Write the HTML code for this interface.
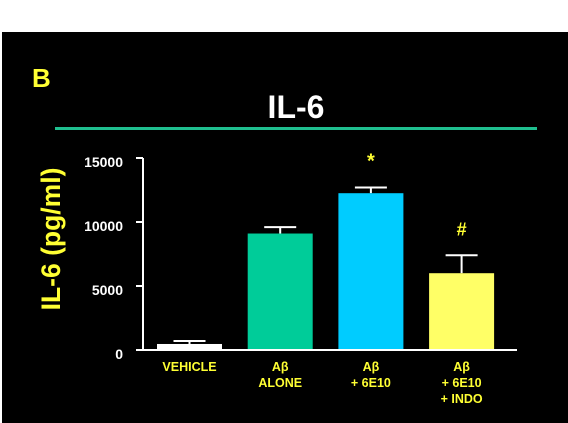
<!DOCTYPE html>
<html><head><meta charset="utf-8"><style>
html,body{margin:0;padding:0;background:#fff;}
svg{display:block;}
text{font-family:"Liberation Sans",Arial,sans-serif;font-weight:bold;}
</style></head><body>
<svg width="568" height="423">
<rect x="2" y="32" width="566" height="391" fill="#000"/>
<text x="32" y="87" font-size="26" fill="#ffff33">B</text>
<text x="296" y="118" font-size="32" fill="#fff" text-anchor="middle">IL-6</text>
<rect x="55" y="127" width="482" height="3" fill="#1fbf8f"/>
<text transform="translate(60,239) rotate(-90)" font-size="26.5" fill="#ffff33" text-anchor="middle">IL-6 (pg/ml)</text>
<g id="axes"></g>
<g id="bars"></g>
</svg>
<script>
const categories=[["VEHICLE"],["Aβ","ALONE"],["Aβ","+ 6E10"],["Aβ","+ 6E10","+ INDO"]];
const values=[470,9100,12250,6000];
const errors=[230,500,450,1400];
const colors=["#ffffff","#00cc99","#00ccff","#ffff66"];
const yTicks=[0,5000,10000,15000];
const markers=["","","*","#"];
const NS="http://www.w3.org/2000/svg";
const y0=350,yTop=158,yMax=15000,axX=143,axEnd=517;
const y=v=>y0-(v/yMax)*(y0-yTop);
const barW=65,slot=90.7;
const bx=i=>157+i*slot;
function mk(tag,attrs,parent){const e=document.createElementNS(NS,tag);for(const k in attrs)e.setAttribute(k,attrs[k]);parent.appendChild(e);return e;}
const ax=document.getElementById('axes'),bg=document.getElementById('bars');
let l=mk('line',{x1:axX,y1:yTop,x2:axX,y2:y0+1,stroke:'#fff','stroke-width':2},ax);


l=mk('line',{x1:axX-1,y1:y0,x2:axEnd,y2:y0,stroke:'#fff','stroke-width':2},ax);


yTicks.forEach(t=>{
 const tk=mk('line',{x1:axX-7,y1:y(t),x2:axX,y2:y(t),stroke:'#fff','stroke-width':2},ax);
 
 
 const tx=mk('text',{x:123,y:y(t)+9,'font-size':14,fill:'#fff','text-anchor':'end'},ax);
 tx.textContent=t;
 
 
});
values.forEach((v,i)=>{
 const x=bx(i),cx=x+barW/2;
 const eTop=y(v+errors[i]);
 const el=mk('line',{x1:cx,y1:eTop,x2:cx,y2:y(v),stroke:'#fff','stroke-width':2},bg);
 
 
 const cap=mk('line',{x1:cx-16,y1:eTop,x2:cx+16,y2:eTop,stroke:'#fff','stroke-width':2},bg);
 
 
 const r=mk('rect',{x:x,y:y(v),width:barW,height:y0-y(v)-1,fill:colors[i]},bg);
 
 
 if(markers[i]){
  const m=mk('text',{x:cx,y:eTop-20,'font-size':markers[i]=='*'?20:18,fill:'#ffff33','text-anchor':'middle'},bg);
  m.textContent=markers[i];
  
  
 }
 categories[i].forEach((s,j)=>{
  const t=mk('text',{x:cx,y:371+j*16,'font-size':12.5,fill:'#ffff33','text-anchor':'middle'},bg);
  t.textContent=s;
  
  
 });
});
</script>
</body></html>
